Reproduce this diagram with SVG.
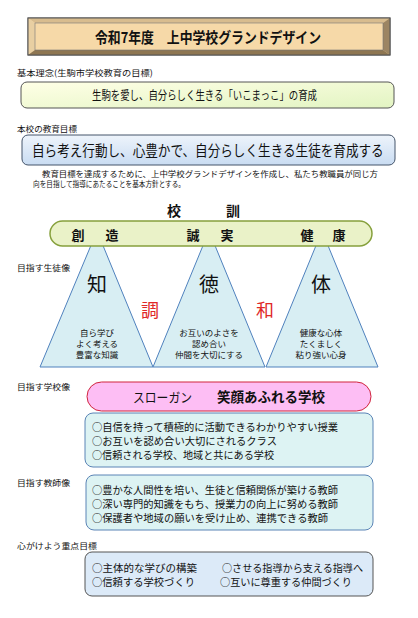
<svg xmlns="http://www.w3.org/2000/svg" width="418" height="618" viewBox="0 0 418 618">
<defs>
<style>
text{font-family:"Noto Sans CJK JP","Noto Sans",sans-serif;fill:#111}
.lbl{font-size:8.5px}
.par{font-size:8px}
.b{font-weight:bold}
.tri{fill:#D8EEF3;stroke:#4F81BD;stroke-width:1}
.box{fill:#DDF3F3;stroke:#5B84B6;stroke-width:1}
.li{font-size:10.5px}
.fl{font-size:10px}
.sm{font-size:8.5px;text-anchor:middle}
.big{font-size:20px;text-anchor:middle}
.red{font-size:18px;text-anchor:middle;fill:#E02828}
.mot{font-size:13px;font-weight:bold;text-anchor:middle}
</style>
<linearGradient id="g2" x1="0" y1="0" x2="1" y2="1">
<stop offset="0" stop-color="#FFFFE6"/>
<stop offset="1" stop-color="#E2F4C2"/>
</linearGradient>
<linearGradient id="g3" x1="0" y1="0" x2="0" y2="1">
<stop offset="0" stop-color="#EEF4FB"/>
<stop offset="1" stop-color="#C9DCF2"/>
</linearGradient>
</defs>

<g id="title">
<rect x="28" y="18" width="362" height="37" fill="#F5D7A4" stroke="#555" stroke-width="1"/>
<polygon points="28,18 390,18 383,23 35,23" fill="#D8BC8E"/>
<polygon points="28,18 35,23 35,50 28,55" fill="#E8CFA2"/>
<polygon points="390,18 390,55 383,50 383,23" fill="#9C8563"/>
<polygon points="28,55 35,50 383,50 390,55" fill="#8E7652"/>
<rect x="35" y="23" width="348" height="27" fill="#F6D9A8" stroke="#777" stroke-width="0.6"/>
<rect x="28" y="18" width="362" height="37" fill="none" stroke="#555" stroke-width="1"/>
<text x="95" y="43" font-size="15" class="b" textLength="226" lengthAdjust="spacingAndGlyphs">令和7年度　上中学校グランドデザイン</text>
</g>

<g id="basic-label"><text x="17" y="76" class="lbl" textLength="136" lengthAdjust="spacingAndGlyphs">基本理念(生駒市学校教育の目標)</text></g>

<g id="basic">
<rect x="21" y="82" width="373" height="26" rx="6" fill="url(#g2)" stroke="#555" stroke-width="1"/>
<text x="92" y="100" font-size="12" textLength="225" lengthAdjust="spacingAndGlyphs">生駒を愛し、自分らしく生きる「いこまっこ」の育成</text>
</g>

<g id="goal-label"><text x="17" y="132" class="lbl" textLength="60" lengthAdjust="spacingAndGlyphs">本校の教育目標</text></g>

<g id="goal">
<rect x="22" y="135" width="373" height="30" rx="6" fill="url(#g3)" stroke="#44546A" stroke-width="1"/>
<text transform="translate(32,156) scale(1,1.18)" font-size="12.6">自ら考え行動し、心豊かで、自分らしく生きる生徒を育成する</text>
</g>

<g id="policy">
<text x="42" y="177" class="par" textLength="336" lengthAdjust="spacingAndGlyphs">教育目標を達成するために、上中学校グランドデザインを作成し、私たち教職員が同じ方</text>
<text x="33" y="187" class="par" textLength="152" lengthAdjust="spacingAndGlyphs">向を目指して指導にあたることを基本方針とする。</text>
</g>

<g id="motto-title">
<text x="174" y="216" font-size="14" class="b" text-anchor="middle">校</text>
<text x="233" y="216" font-size="14" class="b" text-anchor="middle">訓</text>
</g>

<g id="tri-chi">
<polygon class="tri" points="40,367 97,231 153,367"/>
<text x="97" y="292" class="big">知</text>
<text x="97" y="336" class="sm">自ら学び</text>
<text x="97" y="347" class="sm">よく考える</text>
<text x="97" y="358" class="sm">豊富な知識</text>
</g>
<g id="tri-toku">
<polygon class="tri" points="153,367 209,231 265,367"/>
<text x="209" y="292" class="big">徳</text>
<text x="209" y="336" class="sm">お互いのよさを</text>
<text x="209" y="347" class="sm">認め合い</text>
<text x="209" y="358" class="sm">仲間を大切にする</text>
</g>
<g id="tri-tai">
<polygon class="tri" points="266,367 322,231 378,367"/>
<text x="321" y="292" class="big">体</text>
<text x="321" y="336" class="sm">健康な心体</text>
<text x="321" y="347" class="sm">たくましく</text>
<text x="321" y="358" class="sm">粘り強い心身</text>
</g>
<g id="harmony">
<text x="150" y="317" class="red">調</text>
<text x="265" y="317" class="red">和</text>
</g>

<g id="motto">
<rect x="50" y="221" width="322" height="25" rx="12.5" fill="#EAF2C8" stroke="#86A03C" stroke-width="1.5"/>
<text x="78" y="240" class="mot">創</text>
<text x="112" y="240" class="mot">造</text>
<text x="193" y="240" class="mot">誠</text>
<text x="227" y="240" class="mot">実</text>
<text x="307" y="240" class="mot">健</text>
<text x="339" y="240" class="mot">康</text>
</g>

<g id="student-label"><text x="17" y="271" font-size="8" textLength="53" lengthAdjust="spacingAndGlyphs">目指す生徒像</text></g>

<g id="school-label"><text x="17" y="390" font-size="8" textLength="53" lengthAdjust="spacingAndGlyphs">目指す学校像</text></g>

<g id="slogan">
<rect x="87" y="382" width="284" height="29" rx="14.5" fill="#FDBEF4" stroke="#D0243C" stroke-width="1"/>
<text x="133" y="402" font-size="13" textLength="59" lengthAdjust="spacingAndGlyphs">スローガン</text>
<text x="217" y="402" font-size="14" class="b" textLength="108" lengthAdjust="spacingAndGlyphs">笑顔あふれる学校</text>
</g>

<g id="school">
<rect class="box" x="85" y="413" width="288" height="54" rx="8"/>
<text x="92" y="431" class="li" textLength="246" lengthAdjust="spacingAndGlyphs">○自信を持って積極的に活動できるわかりやすい授業</text>
<text x="92" y="445" class="li" textLength="185" lengthAdjust="spacingAndGlyphs">○お互いを認め合い大切にされるクラス</text>
<text x="92" y="459" class="li" textLength="182" lengthAdjust="spacingAndGlyphs">○信頼される学校、地域と共にある学校</text>
</g>

<g id="teacher-label"><text x="17" y="486" font-size="8" textLength="53" lengthAdjust="spacingAndGlyphs">目指す教師像</text></g>

<g id="teacher">
<rect class="box" x="86" y="475" width="287" height="55" rx="8"/>
<text x="92" y="494" class="li" textLength="246" lengthAdjust="spacingAndGlyphs">○豊かな人間性を培い、生徒と信頼関係が築ける教師</text>
<text x="92" y="508" class="li" textLength="246" lengthAdjust="spacingAndGlyphs">○深い専門的知識をもち、授業力の向上に努める教師</text>
<text x="92" y="522" class="li" textLength="236" lengthAdjust="spacingAndGlyphs">○保護者や地域の願いを受け止め、連携できる教師</text>
</g>

<g id="focus-label"><text x="17" y="549" font-size="8" textLength="80" lengthAdjust="spacingAndGlyphs">心がけよう重点目標</text></g>

<g id="focus">
<rect x="85" y="552" width="288" height="44" rx="7" fill="#DCEAF8" stroke="#555" stroke-width="1"/>
<text x="92" y="572" class="fl" textLength="105" lengthAdjust="spacingAndGlyphs">○主体的な学びの構築</text>
<text x="222" y="572" class="fl" textLength="141" lengthAdjust="spacingAndGlyphs">○させる指導から支える指導へ</text>
<text x="92" y="586" class="fl" textLength="103" lengthAdjust="spacingAndGlyphs">○信頼する学校づくり</text>
<text x="220" y="586" class="fl" textLength="132" lengthAdjust="spacingAndGlyphs">○互いに尊重する仲間づくり</text>
</g>
</svg>
